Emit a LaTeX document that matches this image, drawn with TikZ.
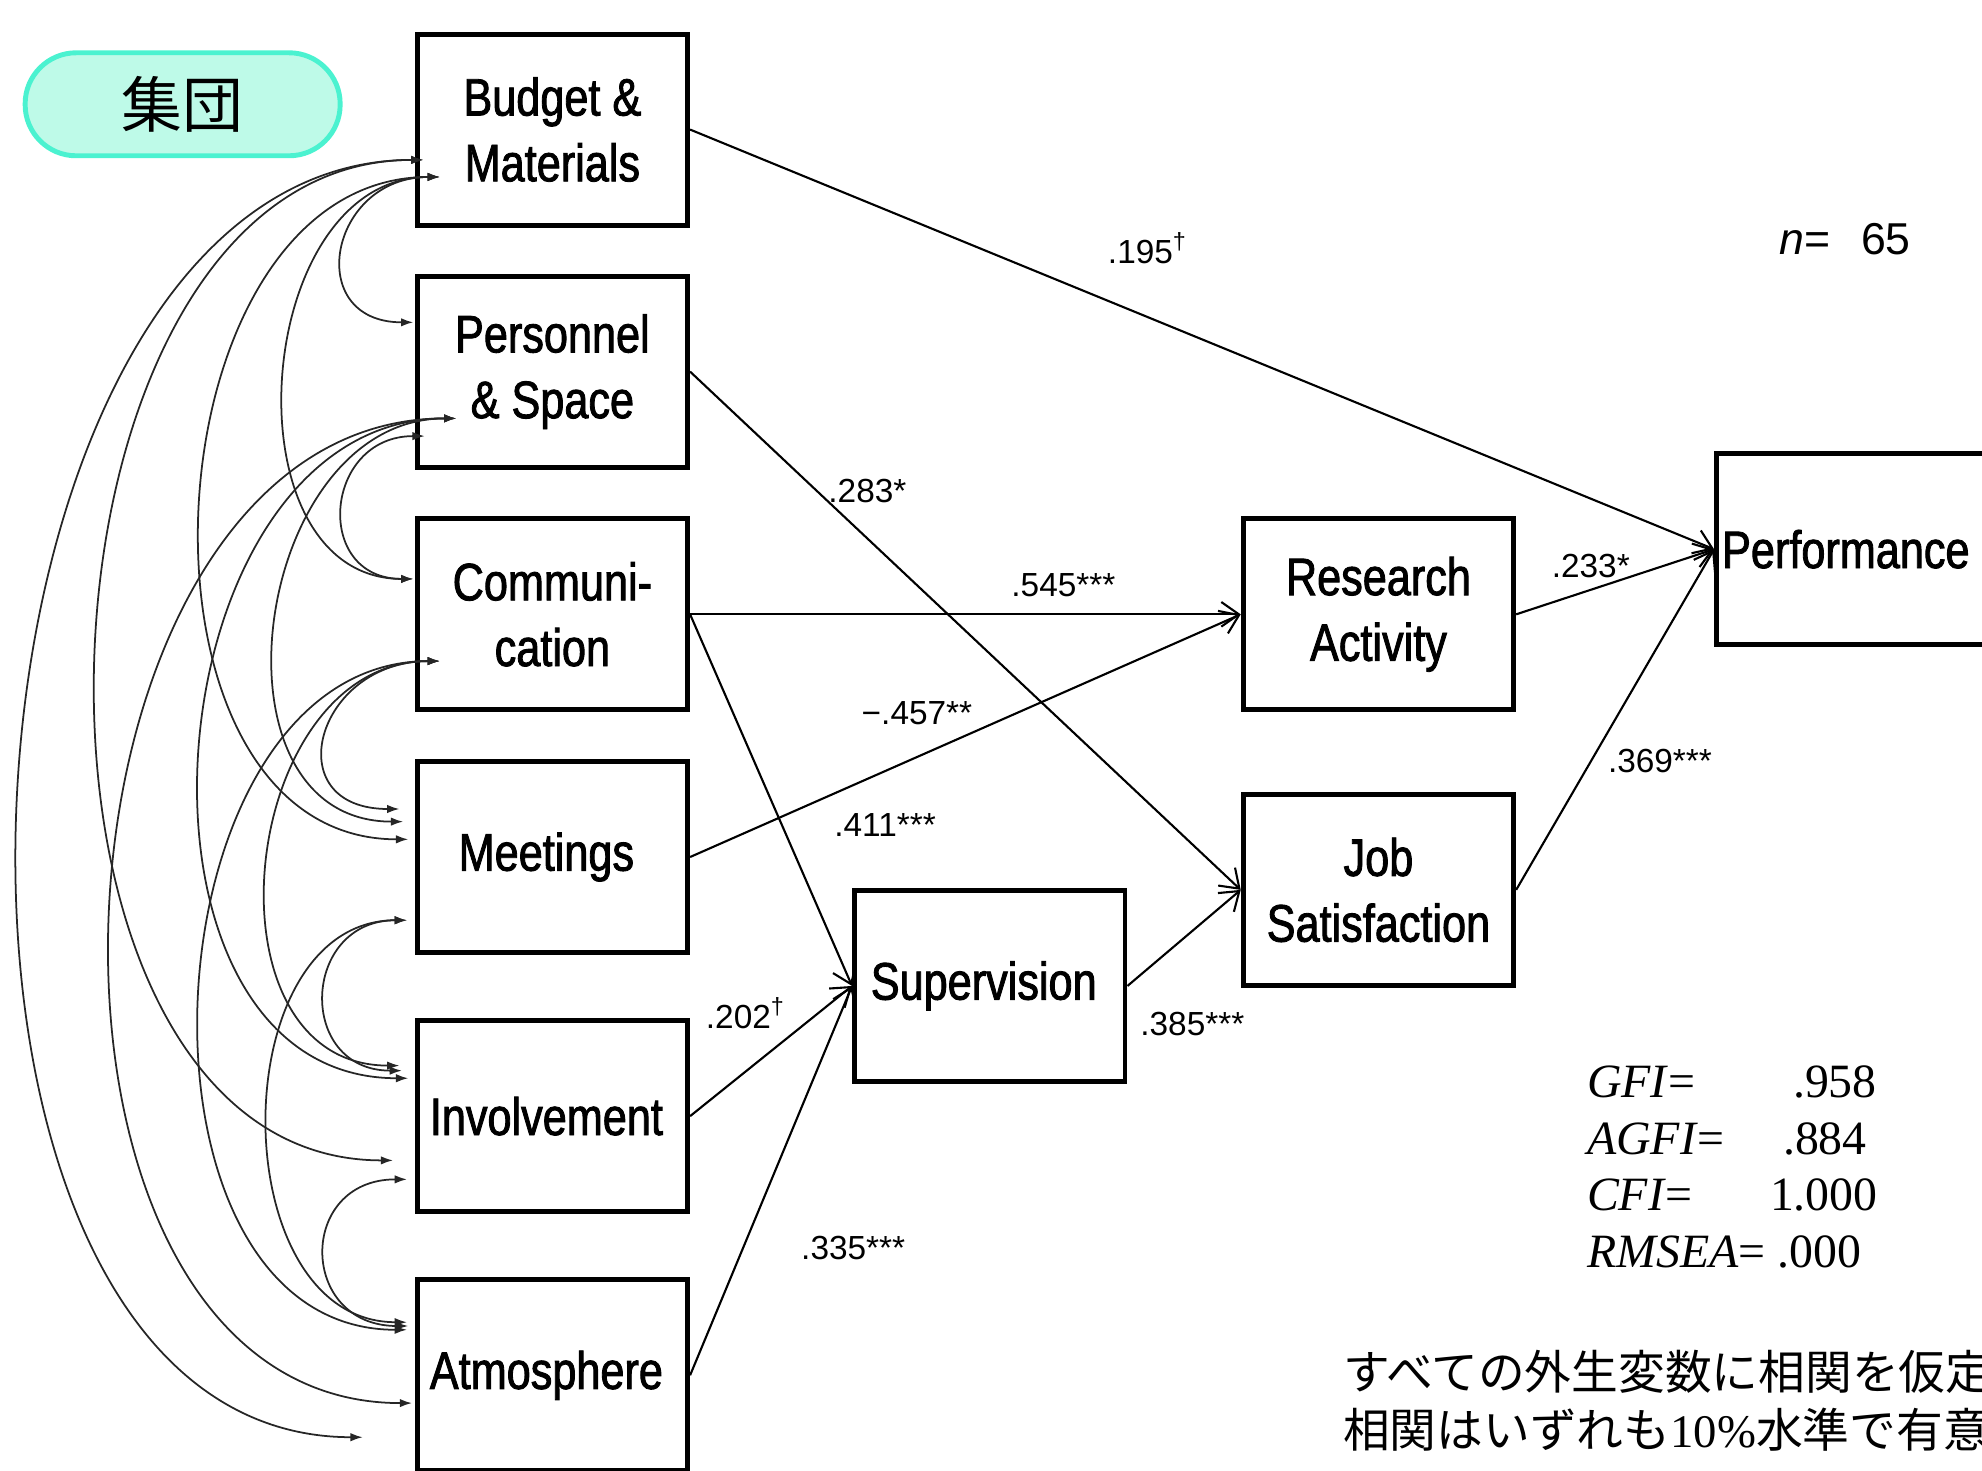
\documentclass[tikz,border=0pt]{standalone}
\usepackage{fontspec}
\setmainfont{Liberation Sans}
\newfontfamily\boxfont[FakeStretch=0.82, FakeBold=1.6]{Liberation Sans}
\newfontfamily\jpfont{Noto Sans CJK JP}
\newfontfamily\fitfont{Liberation Serif}
\usetikzlibrary{arrows.meta}

\definecolor{pillfill}{RGB}{190,250,232}
\definecolor{pillline}{RGB}{75,242,208}

\tikzset{
    box/.style={draw, line width=1.4pt, minimum width=27.05mm, minimum height=19.1mm,
        align=center, inner sep=0pt, font=\boxfont\fontsize{15pt}{18.7pt}\selectfont},
    effect/.style={-{Straight Barb[length=5pt,width=7pt]}, line width=0.6pt},
    corr/.style={{Latex[length=3.5pt,width=2.4pt]}-{Latex[length=3.5pt,width=2.4pt]},
        line width=0.5pt, black!85},
    coef/.style={font=\fontsize{9.5pt}{11pt}\selectfont, inner sep=1pt},
    fitline/.style={font=\fitfont\fontsize{13.6pt}{16pt}\selectfont, inner sep=0pt, anchor=base west},
    note/.style={font=\jpfont\fontsize{13.3pt}{16pt}\selectfont, inner sep=0pt, anchor=base west}
}

\begin{document}
\begin{tikzpicture}[x=0.1264mm, y=-0.1264mm]
        \useasboundingbox (0,0) rectangle (1568,1163);
        \clip (0,0) rectangle (1568,1163);

        \node[draw=pillline, fill=pillfill, line width=1.4pt, rounded corners=5.1mm,
            minimum width=31.5mm, minimum height=10.3mm,
            font=\jpfont\fontsize{17.3pt}{20pt}\selectfont] (Group) at (144.5,82.5) {
            集団
        };

        % exogenous
        \node[box] (Budget) at (437,102.5) {
            Budget \&\\Materials
        };
        \node[box] (Personnel) at (437,294) {
            Personnel\\\& Space
        };
        \node[box] (Communication) at (437,486) {
            Communi-\\cation
        };
        \node[box] (Meetings) at (437,678) {
            Meetings
        };
        \node[box] (Involvement) at (437,883) {
            Involvement
        };
        \node[box] (Atmosphere) at (437,1088) {
            Atmosphere
        };

        % endogenous
        \node[box] (Supervision) at (783,780) {
            Supervision
        };
        \node[box] (Research) at (1090.5,486) {
            Research\\Activity
        };
        \node[box] (JobSatisfaction) at (1090.5,704) {
            Job\\Satisfaction
        };
        \node[box] (Performance) at (1465,434.5) {
            Performance
        };

        \node[font=\fontsize{12.7pt}{15pt}\selectfont, inner sep=0pt, anchor=base west] (SampleSize) at (1407,201) {
            \textit{n}=\hspace{3.1mm}65
        };

        \node[fitline] (FitGFI) at (1255,868) {
            \makebox[20.6mm][l]{\textit{GFI}=}.958
        };
        \node[fitline] (FitAGFI) at (1255,913) {
            \makebox[19.6mm][l]{\textit{AGFI}=}.884
        };
        \node[fitline] (FitCFI) at (1255,958) {
            \makebox[18.3mm][l]{\textit{CFI}=}1.000
        };
        \node[fitline] (FitRMSEA) at (1255,1003) {
            \textit{RMSEA}= .000
        };

        \node[note] (NoteOne) at (1062,1099) {
            すべての外生変数に相関を仮定
        };
        \node[note] (NoteTwo) at (1062,1145) {
            相関はいずれも{\fitfont 10\%}水準で有意
        };

        % paths
        \draw[effect] (Budget.east) to node[coef, pos=.447, yshift=6.9mm] {
            .195\textsuperscript{†}
        } (Performance.west);
        \draw[effect] (Personnel.east) to node[coef, pos=.322, yshift=4.8mm] {
            .283*
        } (JobSatisfaction.west);
        \draw[effect] (Communication.east) to node[coef, pos=.678, yshift=2.9mm] {
            .545***
        } (Research.west);
        \draw[effect] (Meetings.east) to node[coef, pos=.412, yshift=4.4mm] {
            −.457**
        } (Research.west);
        \draw[effect] (Communication.east) to node[coef, pos=.568, xshift=10.3mm] {
            .411***
        } (Supervision.west);
        \draw[effect] (Involvement.east) to node[coef, pos=.344, yshift=5.8mm] {
            .202\textsuperscript{†}
        } (Supervision.west);
        \draw[effect] (Atmosphere.east) to node[coef, pos=.328, xshift=11mm] {
            .335***
        } (Supervision.west);
        \draw[effect] (Supervision.east) to node[coef, pos=.573, yshift=-9.3mm] {
            .385***
        } (JobSatisfaction.west);
        \draw[effect] (Research.east) to node[coef, pos=.377, yshift=2.35mm] {
            .233*
        } (Performance.west);
        \draw[effect] (JobSatisfaction.east) to node[coef, pos=.378, xshift=6.9mm] {
            .369***
        } (Performance.west);

        % correlations
        \coordinate (Budget1) at (335,126.5);
        \coordinate (Budget2) at (348,140);
        \coordinate (Personnel0) at (327,255);
        \coordinate (Personnel1) at (361,331);
        \coordinate (Personnel2) at (336,345);
        \coordinate (Communication0) at (327,458);
        \coordinate (Communication1) at (348,523);
        \coordinate (Meetings1) at (316,640);
        \coordinate (Meetings2) at (319,650);
        \coordinate (Meetings3) at (323,664);
        \coordinate (Meetings4) at (322,728);
        \coordinate (Involvement1) at (316,843);
        \coordinate (Involvement2) at (318,847);
        \coordinate (Involvement3) at (323,853);
        \coordinate (Involvement4) at (311,918);
        \coordinate (Involvement5) at (322,933);
        \coordinate (Atmosphere1) at (322,1046);
        \coordinate (Atmosphere2) at (323,1049);
        \coordinate (Atmosphere3) at (322,1052);
        \coordinate (Atmosphere4) at (326,1110);
        \coordinate (Atmosphere5) at (287,1137);

        \draw[corr] (Budget2) to[out=180, in=180, distance=11.1mm] (Personnel0);
        \draw[corr] (Budget2) to[out=180, in=180, distance=18.9mm] (Communication0);
        \draw[corr] (Budget2) to[out=180, in=180, distance=29.7mm] (Meetings3);
        \draw[corr] (Budget1) to[out=180, in=180, distance=41.5mm] (Involvement4);
        \draw[corr] (Budget1) to[out=180, in=180, distance=49.8mm] (Atmosphere5);
        \draw[corr] (Personnel2) to[out=180, in=180, distance=10.1mm] (Communication0);
        \draw[corr] (Personnel1) to[out=180, in=180, distance=20.4mm] (Meetings2);
        \draw[corr] (Personnel1) to[out=180, in=180, distance=30.8mm] (Involvement3);
        \draw[corr] (Personnel1) to[out=180, in=180, distance=43mm] (Atmosphere4);
        \draw[corr] (Communication1) to[out=180, in=180, distance=12.4mm] (Meetings1);
        \draw[corr] (Communication1) to[out=180, in=180, distance=20.2mm] (Involvement1);
        \draw[corr] (Communication1) to[out=180, in=180, distance=29.7mm] (Atmosphere3);
        \draw[corr] (Meetings4) to[out=180, in=180, distance=10.6mm] (Involvement2);
        \draw[corr] (Meetings4) to[out=180, in=180, distance=18.5mm] (Atmosphere1);
        \draw[corr] (Involvement5) to[out=180, in=180, distance=11mm] (Atmosphere2);
    \end{tikzpicture}
\end{document}
